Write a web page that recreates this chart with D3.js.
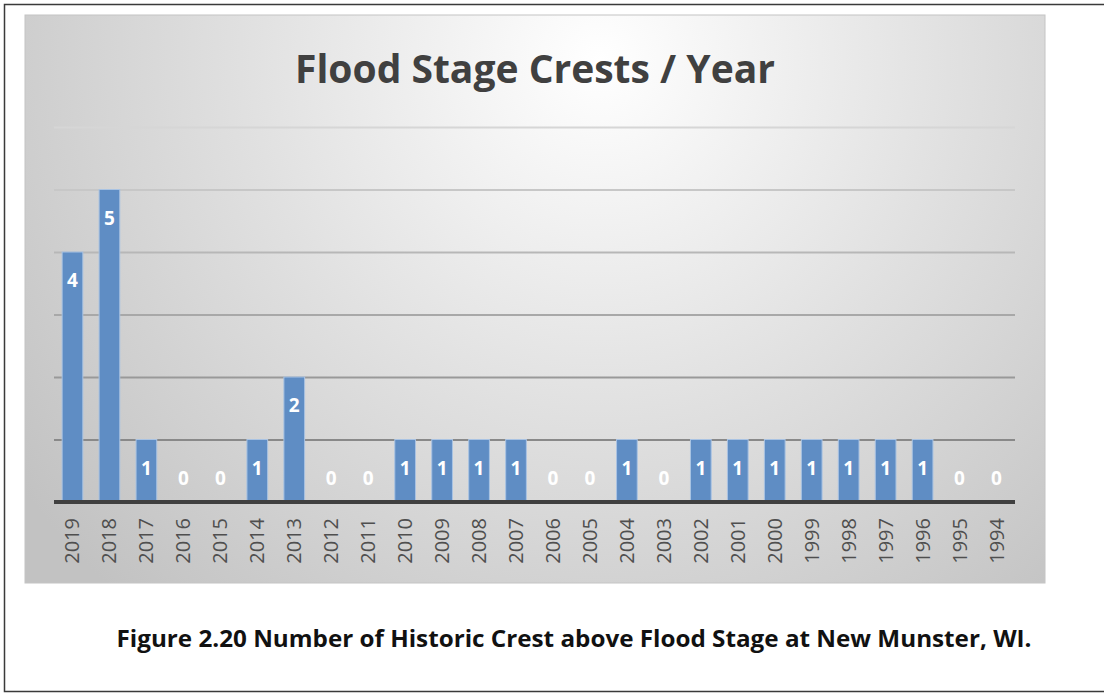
<!DOCTYPE html>
<html>
<head>
<meta charset="utf-8">
<script src="https://cdn.jsdelivr.net/npm/d3@7"></script>
<style>
  html, body { margin: 0; padding: 0; background: #ffffff; }
  svg { display: block; }
</style>
</head>
<body>
<svg id="chart" width="1104" height="694"></svg>
<script>
const years = ["2019","2018","2017","2016","2015","2014","2013","2012","2011","2010","2009","2008","2007","2006","2005","2004","2003","2002","2001","2000","1999","1998","1997","1996","1995","1994"];
const crests = [4,5,1,0,0,1,2,0,0,1,1,1,1,0,0,1,0,1,1,1,1,1,1,1,0,0];
const gridTicks = [1,2,3,4,5,6];
const titleText = "Flood Stage Crests / Year";
const captionText = "Figure 2.20 Number of Historic Crest above Flood Stage at New Munster, WI.";

const svg = d3.select("#chart");
const defs = svg.append("defs");

const rg = defs.append("radialGradient").attr("id", "bg")
  .attr("gradientUnits", "userSpaceOnUse")
  .attr("cx", 600).attr("cy", 60).attr("r", 720)
  .attr("fx", 600).attr("fy", 60);
rg.append("stop").attr("offset", "0%").attr("stop-color", "#ffffff");
rg.append("stop").attr("offset", "50%").attr("stop-color", "#e0e0e0");
rg.append("stop").attr("offset", "100%").attr("stop-color", "#c2c2c2");

svg.append("path")
  .attr("d", "M1104,4.5 H4.5 V691.5 H1104")
  .attr("fill", "none").attr("stroke", "#3a3a3a").attr("stroke-width", 1.5);

svg.append("rect")
  .attr("x", 25).attr("y", 15).attr("width", 1020).attr("height", 568)
  .attr("fill", "url(#bg)").attr("stroke", "#c4c4c4").attr("stroke-width", 1);

const x = d3.scaleBand().domain(years).range([54, 1015]).paddingInner(0.44).paddingOuter(0.22);
const y = d3.scaleLinear().domain([0, 6]).range([502, 127]);
const gridColor = d3.scaleLinear().domain([0, 6]).range(["#7a7a7a", "#d6d6d6"]);

const grid = d3.axisLeft(y).tickValues(gridTicks).tickSize(-(1015 - 54)).tickFormat("");
const gG = svg.append("g").attr("transform", "translate(54,0)").call(grid);
gG.select(".domain").remove();
gG.selectAll(".tick line").attr("stroke", d => gridColor(d)).attr("stroke-width", 2);

svg.append("g").selectAll("rect").data(years).join("rect")
  .attr("x", d => x(d))
  .attr("y", (d, i) => y(crests[i]))
  .attr("width", x.bandwidth())
  .attr("height", (d, i) => y(0) - y(crests[i]))
  .attr("fill", "#5f8dc4")
  .attr("stroke", "#a9c3e3")
  .attr("stroke-width", 1);

svg.append("g").selectAll("text").data(years).join("text")
  .attr("x", d => x(d) + x.bandwidth() / 2)
  .attr("y", (d, i) => crests[i] > 0 ? y(crests[i]) + 35 : y(0) - 17)
  .attr("text-anchor", "middle")
  .attr("font-family", "'Open Sans', sans-serif")
  .attr("font-weight", "bold")
  .attr("font-size", 19)
  .attr("fill", "#ffffff")
  .text((d, i) => crests[i]);

const xAxis = d3.axisBottom(x).tickSize(0).tickPadding(0);
const xg = svg.append("g").attr("transform", "translate(0,502)").call(xAxis);
xg.select(".domain").attr("stroke", "#404040").attr("stroke-width", 4)
  .attr("d", "M54,0H1015");
xg.selectAll(".tick text")
  .attr("transform", "rotate(-90)")
  .attr("text-anchor", "end")
  .attr("x", -16).attr("y", 0).attr("dy", "0.35em")
  .attr("font-family", "'Open Sans', sans-serif")
  .attr("font-size", 20)
  .attr("fill", "#4f4f4f");

svg.append("text")
  .attr("x", 535).attr("y", 83)
  .attr("text-anchor", "middle")
  .attr("font-family", "'Open Sans', sans-serif")
  .attr("font-weight", "bold")
  .attr("font-size", 39)
  .attr("fill", "#404040")
  .text(titleText);

svg.append("text")
  .attr("x", 574).attr("y", 647)
  .attr("text-anchor", "middle")
  .attr("font-family", "'Open Sans', sans-serif")
  .attr("font-weight", "bold")
  .attr("font-size", 23)
  .attr("fill", "#111111")
  .attr("textLength", 915)
  .attr("lengthAdjust", "spacingAndGlyphs")
  .text(captionText);
</script>
</body>
</html>
